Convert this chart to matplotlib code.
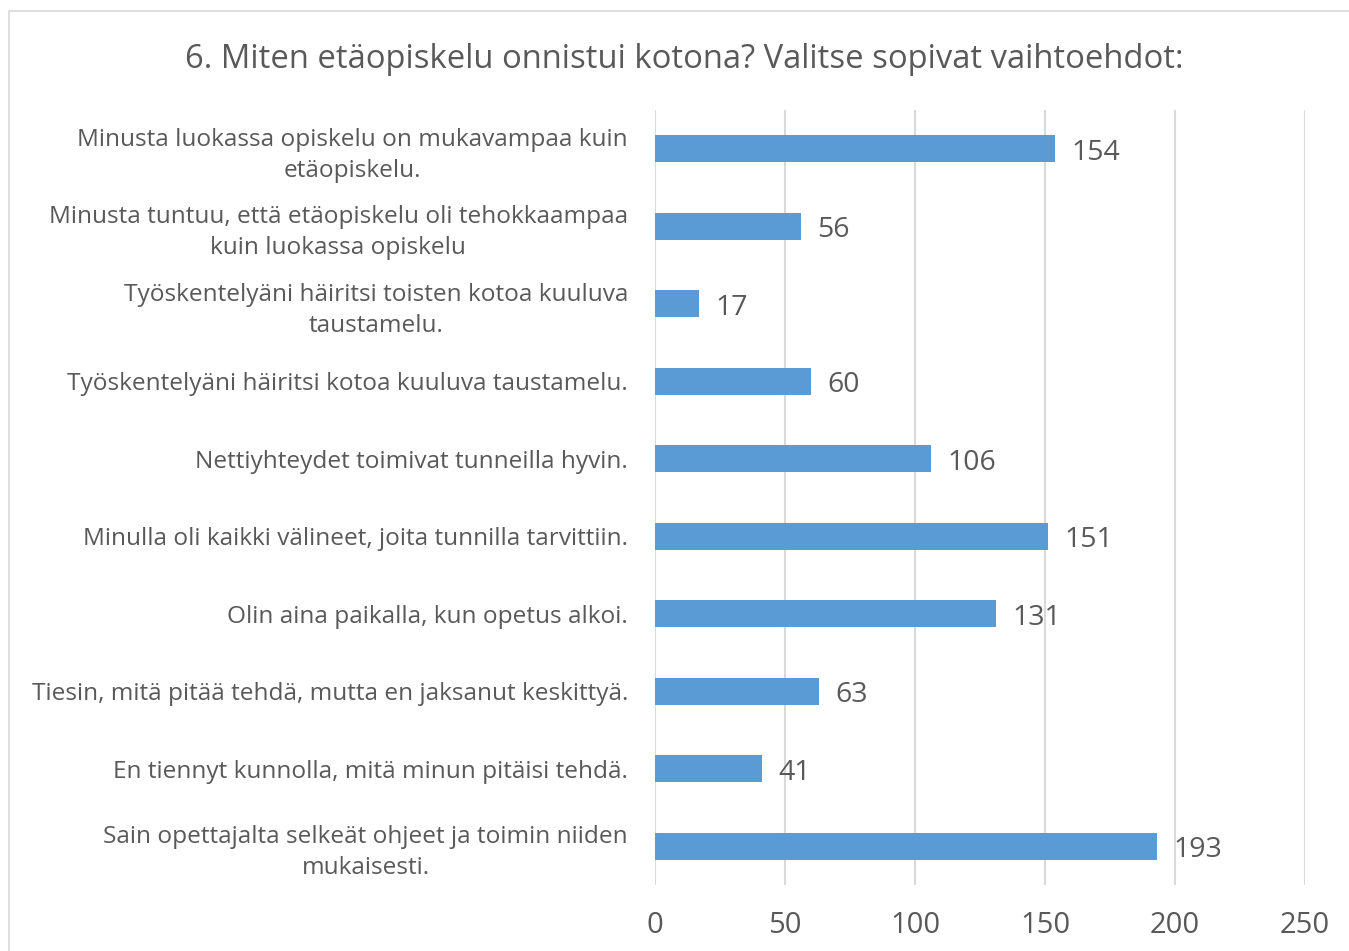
import matplotlib.pyplot as plt
from matplotlib.patches import Rectangle

plt.rcParams['font.family'] = ['Open Sans', 'DejaVu Sans']

title = "6. Miten etäopiskelu onnistui kotona? Valitse sopivat vaihtoehdot:"
labels = [
    "Minusta luokassa opiskelu on mukavampaa kuin\netäopiskelu.",
    "Minusta tuntuu, että etäopiskelu oli tehokkaampaa\nkuin luokassa opiskelu",
    "Työskentelyäni häiritsi toisten kotoa kuuluva\ntaustamelu.",
    "Työskentelyäni häiritsi kotoa kuuluva taustamelu.",
    "Nettiyhteydet toimivat tunneilla hyvin.",
    "Minulla oli kaikki välineet, joita tunnilla tarvittiin.",
    "Olin aina paikalla, kun opetus alkoi.",
    "Tiesin, mitä pitää tehdä, mutta en jaksanut keskittyä.",
    "En tiennyt kunnolla, mitä minun pitäisi tehdä.",
    "Sain opettajalta selkeät ohjeet ja toimin niiden\nmukaisesti.",
]
values = [154, 56, 17, 60, 106, 151, 131, 63, 41, 193]
xticks = [0, 50, 100, 150, 200, 250]

text_color = '#595959'
bar_color = '#5B9BD5'
grid_color = '#d9d9d9'

W, H = 1349, 951
fig = plt.figure(figsize=(W / 100, H / 100), dpi=100)
ax = fig.add_axes([655 / W, 1 - 885 / H, 650 / W, 775 / H])

# chart frame (cropped on right and bottom)
fig.patches.append(Rectangle((9 / W, -0.5), 2, 1.5 - 11 / H, transform=fig.transFigure,
                             fill=False, edgecolor=grid_color, linewidth=1.2))

pos = list(range(len(values)))
ax.barh(pos, values, height=0.35, color=bar_color, zorder=3)
for y, v in zip(pos, values):
    ax.text(v + 6.3, y + 0.05, str(v), va='center', ha='left', fontsize=20.5, color=text_color)

ax.set_xlim(0, 250)
ax.set_ylim(9.5, -0.5)
ax.set_xticks(xticks)
ax.set_xticklabels([str(t) for t in xticks], fontsize=21, color=text_color)
ax.set_yticks(pos)
ax.set_yticklabels(labels, fontsize=17.6, color=text_color, linespacing=1.38)
for t in ax.get_yticklabels():
    t.set_multialignment('center')
ax.tick_params(axis='both', length=0)
ax.tick_params(axis='x', pad=19)
ax.tick_params(axis='y', pad=19.5)
ax.grid(axis='x', color=grid_color, linewidth=1.5, zorder=0)
for s in ax.spines.values():
    s.set_visible(False)

fig.text(684 / W, 1 - 59 / H, title, ha='center', va='center', fontsize=23.6, color=text_color)

fig.savefig('out.png', dpi=100)
